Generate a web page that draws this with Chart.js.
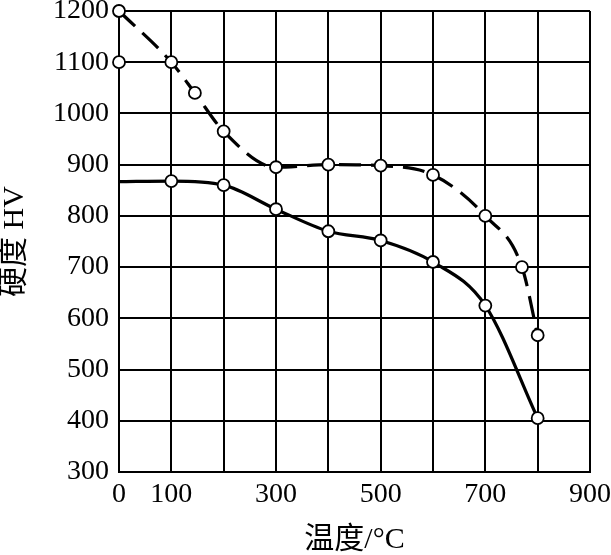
<!DOCTYPE html>
<html>
<head>
<meta charset="utf-8">
<script src="https://cdn.jsdelivr.net/npm/chart.js@4"></script>
<style>
  body { margin: 0; background: #fff; }
  canvas { display: block; }
</style>
</head>
<body>
<canvas id="hardness-chart" width="611" height="555"></canvas>
<script>
// Hardness vs temperature

const solidTemps = [0, 100, 200, 300, 400, 500, 600, 700, 800];
const solidHv = [867, 868, 860, 813, 770, 752, 710, 625, 405];

const dashTemps = [0, 100, 145, 200, 300, 400, 500, 600, 700, 770, 800];
const dashHv = [1200, 1100, 1040, 965, 895, 900, 898, 880, 800, 700, 567];

const loneTemps = [0];
const loneHv = [1100];

const xLabels = [0, 100, 300, 500, 700, 900];

const toPoints = (xs, ys) => xs.map((x, i) => ({ x: x, y: ys[i] }));

const serif = '"Liberation Serif", "Noto Sans CJK SC", serif';

const pointStyle = {
    pointRadius: 6,
    pointBackgroundColor: '#fff',
    pointBorderColor: '#000',
    pointBorderWidth: 1.8,
    clip: false
};

const hardnessCanvas = document.getElementById("hardness-chart");

let hardnessChart = new Chart(hardnessCanvas, {
    type: 'scatter',
    data: {
        datasets: [{
            data: toPoints(solidTemps, solidHv),
            showLine: true,
            borderColor: '#000',
            borderWidth: 3.2,
            cubicInterpolationMode: 'monotone',
            ...pointStyle,
            pointRadius: solidTemps.map((t, i) => i === 0 ? 0 : 6)
        }, {
            data: toPoints(dashTemps, dashHv),
            showLine: true,
            borderColor: '#000',
            borderWidth: 3.2,
            borderDash: [22, 10],
            cubicInterpolationMode: 'monotone',
            ...pointStyle
        }, {
            data: toPoints(loneTemps, loneHv),
            showLine: false,
            ...pointStyle
        }]
    },
    options: {
        responsive: false,
        animation: false,
        layout: {
            padding: { top: 11, right: 21, bottom: 0, left: 0 }
        },
        plugins: {
            legend: { display: false },
            tooltip: { enabled: false }
        },
        scales: {
            x: {
                type: 'linear',
                min: 0,
                max: 900,
                grid: { color: '#000', lineWidth: 2, drawTicks: false },
                border: { color: '#000', width: 2 },
                ticks: {
                    stepSize: 100,
                    padding: 6,
                    maxRotation: 0,
                    autoSkip: false,
                    color: '#000',
                    font: { family: serif, size: 28 },
                    callback: value => xLabels.includes(value) ? String(value) : ''
                },
                title: {
                    display: true,
                    text: '温度/°C',
                    color: '#000',
                    font: { family: serif, size: 30, lineHeight: 1 },
                    padding: { top: 0, bottom: 0 }
                },
                afterFit: scale => {
                    scale.height = 83;
                    scale.paddingLeft = 0;
                    scale.paddingRight = 0;
                }
            },
            y: {
                min: 300,
                max: 1200,
                grid: { color: '#000', lineWidth: 2, drawTicks: false },
                border: { color: '#000', width: 2 },
                ticks: {
                    stepSize: 100,
                    padding: 10,
                    color: '#000',
                    font: { family: serif, size: 28 },
                    callback: value => String(value)
                },
                title: {
                    display: true,
                    text: '硬度 HV',
                    color: '#000',
                    font: { family: serif, size: 30, lineHeight: 1 },
                    padding: { top: 0, bottom: 0 }
                },
                afterFit: scale => {
                    scale.width = 119;
                    scale.paddingTop = 0;
                    scale.paddingBottom = 0;
                }
            }
        }
    }
});
</script>
</body>
</html>
